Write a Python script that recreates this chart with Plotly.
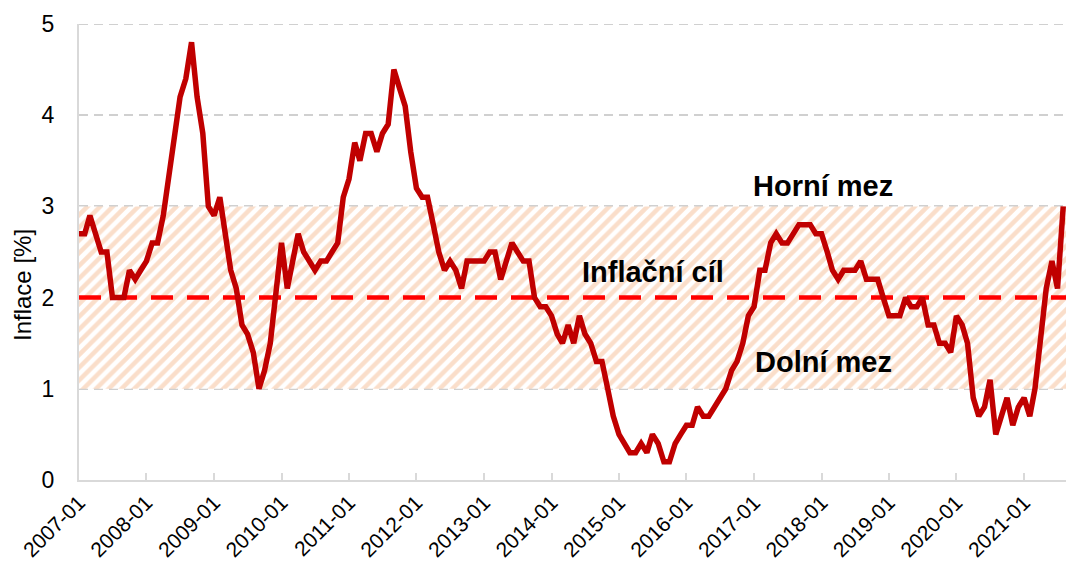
import plotly.graph_objects as go
import pandas as pd

# ---- data -------------------------------------------------------------
start_month = "2007-01"
inflation = [
    2.7, 2.7, 2.9, 2.7, 2.5, 2.5, 2.0, 2.0, 2.0, 2.3, 2.2, 2.3,   # 2007
    2.4, 2.6, 2.6, 2.9, 3.3, 3.8, 4.2, 4.4, 4.8, 4.2, 3.8, 3.0,   # 2008
    2.9, 3.1, 2.7, 2.3, 2.1, 1.7, 1.6, 1.4, 1.0, 1.2, 1.5, 2.0,   # 2009
    2.6, 2.1, 2.4, 2.7, 2.5, 2.4, 2.3, 2.4, 2.4, 2.5, 2.6, 3.1,   # 2010
    3.3, 3.7, 3.5, 3.8, 3.8, 3.6, 3.8, 3.9, 4.5, 4.3, 4.1, 3.6,   # 2011
    3.2, 3.1, 3.1, 2.8, 2.5, 2.3, 2.4, 2.3, 2.1, 2.4, 2.4, 2.4,   # 2012
    2.4, 2.5, 2.5, 2.2, 2.4, 2.6, 2.5, 2.4, 2.4, 2.0, 1.9, 1.9,   # 2013
    1.8, 1.6, 1.5, 1.7, 1.5, 1.8, 1.6, 1.5, 1.3, 1.3, 1.0, 0.7,   # 2014
    0.5, 0.4, 0.3, 0.3, 0.4, 0.3, 0.5, 0.4, 0.2, 0.2, 0.4, 0.5,   # 2015
    0.6, 0.6, 0.8, 0.7, 0.7, 0.8, 0.9, 1.0, 1.2, 1.3, 1.5, 1.8,   # 2016
    1.9, 2.3, 2.3, 2.6, 2.7, 2.6, 2.6, 2.7, 2.8, 2.8, 2.8, 2.7,   # 2017
    2.7, 2.5, 2.3, 2.2, 2.3, 2.3, 2.3, 2.4, 2.2, 2.2, 2.2, 2.0,   # 2018
    1.8, 1.8, 1.8, 2.0, 1.9, 1.9, 2.0, 1.7, 1.7, 1.5, 1.5, 1.4,   # 2019
    1.8, 1.7, 1.5, 0.9, 0.7, 0.8, 1.1, 0.5, 0.7, 0.9, 0.6, 0.8,   # 2020
    0.9, 0.7, 1.0, 1.6, 2.1, 2.4, 2.1, 3.0,                       # 2021
]
tick_labels = ["2007-01", "2008-01", "2009-01", "2010-01", "2011-01",
               "2012-01", "2013-01", "2014-01", "2015-01", "2016-01",
               "2017-01", "2018-01", "2019-01", "2020-01", "2021-01"]
y_ticks = [0, 1, 2, 3, 4, 5]
target = 2.0
lower_bound = 1.0
upper_bound = 3.0
label_upper = "Horní mez"
label_target = "Inflační cíl"
label_lower = "Dolní mez"
y_title = "Inflace [%]"

months = pd.date_range(start_month + "-01", periods=len(inflation), freq="MS")
tick_dates = [pd.Timestamp(t + "-01") for t in tick_labels]
x_range = [pd.Timestamp("2007-01-01"), pd.Timestamp("2021-08-16")]

FONT = "Arial, Liberation Sans, sans-serif"
ML, MR, MT, MB = 79, 0, 24, 92
PW = 1066 - ML - MR
PH = 572 - MT - MB

fig = go.Figure()

# tolerance band (hatched)
fig.add_trace(go.Scatter(x=x_range, y=[lower_bound, lower_bound], mode="lines",
                         line=dict(width=0), hoverinfo="skip", showlegend=False))
fig.add_trace(go.Scatter(x=x_range, y=[upper_bound, upper_bound], mode="lines",
                         line=dict(width=0), fill="tonexty",
                         fillcolor="white",
                         fillpattern=dict(shape="/", fgcolor="#F5BD96", bgcolor="white",
                                          size=9, solidity=0.5),
                         hoverinfo="skip", showlegend=False))
# target line
fig.add_trace(go.Scatter(x=x_range, y=[target, target], mode="lines",
                         line=dict(color="#FF0000", width=4.5, dash="22px,14px"),
                         hoverinfo="skip", showlegend=False))
# inflation series
fig.add_trace(go.Scatter(x=months, y=inflation, mode="lines",
                         line=dict(color="#C00000", width=5.5),
                         showlegend=False))

ann_font = dict(family=FONT, size=29, color="#000000")
fig.add_annotation(x=(822.5 - ML) / PW, xref="paper", y=3.22, yref="y",
                   xanchor="center", yanchor="middle",
                   text="<b>%s</b>" % label_upper, showarrow=False, font=ann_font)
fig.add_annotation(x=(653 - ML) / PW, xref="paper", y=2.28, yref="y",
                   xanchor="center", yanchor="middle",
                   text="<b>%s</b>" % label_target, showarrow=False, font=ann_font)
fig.add_annotation(x=(823 - ML) / PW, xref="paper", y=1.29, yref="y",
                   xanchor="center", yanchor="middle",
                   text="<b>%s</b>" % label_lower, showarrow=False, font=ann_font)
fig.add_annotation(x=(22 - ML) / PW, xref="paper", y=(572 - MB - 285) / PH, yref="paper",
                   text=y_title, showarrow=False, textangle=-90, xanchor="center",
                   yanchor="middle",
                   font=dict(family=FONT, size=24, color="#000000"))

# top gridline at the range edge
fig.add_shape(type="line", xref="paper", x0=0, x1=1, yref="y", y0=5, y1=5,
              line=dict(color="#D0D0D0", width=2, dash="9px,6px"), layer="below")

fig.update_layout(
    width=1066, height=572,
    margin=dict(l=ML, r=MR, t=MT, b=MB, autoexpand=False),
    paper_bgcolor="white", plot_bgcolor="white",
    font=dict(family=FONT, size=22, color="#000000"),
    showlegend=False,
)

fig.update_xaxes(
    type="date", range=x_range, automargin=False,
    tickvals=tick_dates, ticktext=tick_labels, tickangle=-45,
    ticks="inside", ticklen=7, tickwidth=2, tickcolor="#D9D9D9",
    showline=True, linecolor="#D9D9D9", linewidth=2,
    showgrid=False, zeroline=False,
    tickfont=dict(family=FONT, size=21, color="#000000"),
)
fig.update_yaxes(
    range=[0, 5], tickvals=y_ticks, automargin=False,
    showline=True, linecolor="#D9D9D9", linewidth=2,
    showgrid=True, gridcolor="#D0D0D0", gridwidth=2, griddash="9px,6px",
    zeroline=False, ticks="", ticklabelstandoff=18,
    tickfont=dict(family=FONT, size=23, color="#000000"),
)

fig.write_html("out.html",
               config={"displayModeBar": False},
               post_script="document.body.style.margin='0';document.body.style.overflow='hidden';")
